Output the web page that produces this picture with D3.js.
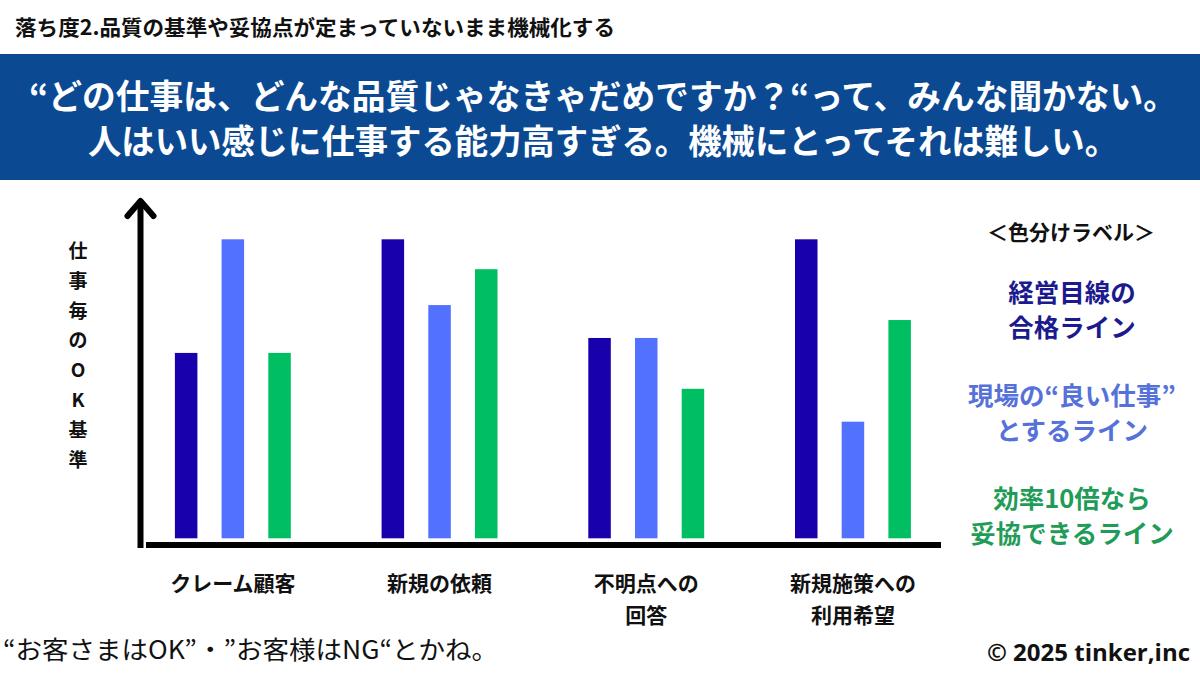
<!DOCTYPE html>
<html>
<head>
  <meta charset="utf-8">
  <style>
    html, body { margin: 0; padding: 0; background: #fff; }
    svg { display: block; font-family: "Noto Sans CJK JP", "Noto Sans", sans-serif; }
  </style>
  <script src="https://d3js.org/d3.v7.min.js"></script>
</head>
<body>
  <div id="chartContainer"></div>

  <script>
    // データ
    var categories = ["クレーム顧客", "新規の依頼", "不明点への回答", "新規施策への利用希望"];
    var categoryLines = [["クレーム顧客"], ["新規の依頼"], ["不明点への", "回答"], ["新規施策への", "利用希望"]];
    var seriesKeys = ["management", "field", "efficiency"];
    var management = [62, 100, 67, 100];  // 経営目線の合格ライン
    var field = [100, 78, 67, 39];        // 現場の“良い仕事”とするライン
    var efficiency = [62, 90, 50, 73];    // 効率10倍なら妥協できるライン
    var legendLines = [["経営目線の", "合格ライン"], ["現場の“良い仕事”", "とするライン"], ["効率10倍なら", "妥協できるライン"]];
    var yLabelChars = ["仕", "事", "毎", "の", "O", "K", "基", "準"];

    var svgWidth = 1200;
    var svgHeight = 675;

    var barColors = ["#1800ad", "#5271ff", "#00bf63"];
    var legendColors = ["#1b1a8e", "#5671da", "#1f9c57"];

    var svg = d3.select("#chartContainer")
      .append("svg")
      .attr("width", svgWidth)
      .attr("height", svgHeight);

    // 上のタイトル
    svg.append("text")
      .attr("x", 15)
      .attr("y", 35)
      .attr("font-size", 21)
      .attr("font-weight", "bold")
      .attr("fill", "#111")
      .attr("textLength", 600)
      .attr("lengthAdjust", "spacingAndGlyphs")
      .text("落ち度2.品質の基準や妥協点が定まっていないまま機械化する");

    // 青い帯
    svg.append("rect")
      .attr("x", 0)
      .attr("y", 54)
      .attr("width", svgWidth)
      .attr("height", 126)
      .attr("fill", "#0b4a93");

    var bannerLines = [
      "“どの仕事は、どんな品質じゃなきゃだめですか？“って、みんな聞かない。",
      "人はいい感じに仕事する能力高すぎる。機械にとってそれは難しい。"
    ];
    var bannerWidths = [1148, 1030];
    svg.selectAll(".banner-line")
      .data(bannerLines)
      .enter()
      .append("text")
      .attr("class", "banner-line")
      .attr("x", 603)
      .attr("y", function (d, i) { return 109 + i * 45; })
      .attr("text-anchor", "middle")
      .attr("font-size", 34)
      .attr("font-weight", "bold")
      .attr("fill", "#fff")
      .attr("textLength", function (d, i) { return bannerWidths[i]; })
      .attr("lengthAdjust", "spacingAndGlyphs")
      .text(function (d) { return d; });

    // スケール
    var x0 = d3.scaleBand()
      .domain(categories)
      .range([129.5, 956.3])
      .padding(0);

    var x1 = d3.scaleBand()
      .domain(seriesKeys)
      .range([0, x0.bandwidth()])
      .paddingInner(0.518)
      .paddingOuter(0.972);

    var yScale = d3.scaleLinear()
      .domain([0, 100])
      .range([538.3, 239.3]);

    var table = categories.map(function (c, i) {
      return { cat: c, values: [management[i], field[i], efficiency[i]] };
    });

    // 棒
    var groups = svg.selectAll(".group")
      .data(table)
      .enter()
      .append("g")
      .attr("class", "group")
      .attr("transform", function (d) { return "translate(" + x0(d.cat) + ",0)"; });

    groups.selectAll("rect")
      .data(function (d) {
        return d.values.map(function (v, j) { return { key: seriesKeys[j], value: v, idx: j }; });
      })
      .enter()
      .append("rect")
      .attr("x", function (d) { return x1(d.key); })
      .attr("y", function (d) { return yScale(d.value); })
      .attr("width", x1.bandwidth())
      .attr("height", function (d) { return yScale(0) - yScale(d.value); })
      .attr("fill", function (d) { return barColors[d.idx]; });

    // 軸
    var axisX = 140.5;
    svg.append("line")
      .attr("x1", axisX).attr("y1", 548)
      .attr("x2", axisX).attr("y2", 200)
      .attr("stroke", "#000").attr("stroke-width", 6);
    svg.append("polyline")
      .attr("points", (axisX - 13) + ",216 " + axisX + ",201 " + (axisX + 13) + ",216")
      .attr("fill", "none")
      .attr("stroke", "#000")
      .attr("stroke-width", 6)
      .attr("stroke-linecap", "round")
      .attr("stroke-linejoin", "round");
    svg.append("line")
      .attr("x1", 146).attr("y1", 545)
      .attr("x2", 941).attr("y2", 545)
      .attr("stroke", "#000").attr("stroke-width", 6);

    // カテゴリラベル
    svg.selectAll(".cat-label")
      .data(table)
      .enter()
      .append("text")
      .attr("class", "cat-label")
      .attr("text-anchor", "middle")
      .attr("font-size", 21)
      .attr("font-weight", "bold")
      .attr("fill", "#111")
      .each(function (d, i) {
        var cx = x0(d.cat) + x0.bandwidth() / 2;
        d3.select(this).selectAll("tspan")
          .data(categoryLines[i])
          .enter()
          .append("tspan")
          .attr("x", cx)
          .attr("y", function (t, k) { return 591 + k * 32; })
          .text(function (t) { return t; });
      });

    // Y軸ラベル（縦書き）
    svg.selectAll(".y-char")
      .data(yLabelChars)
      .enter()
      .append("text")
      .attr("class", "y-char")
      .attr("x", 78)
      .attr("y", function (d, i) { return 258 + i * 29.8; })
      .attr("text-anchor", "middle")
      .attr("font-size", 19)
      .attr("font-weight", "bold")
      .attr("fill", "#111")
      .text(function (d) { return d; });

    // 凡例
    svg.append("text")
      .attr("x", 1071)
      .attr("y", 240)
      .attr("text-anchor", "middle")
      .attr("font-size", 21)
      .attr("font-weight", "bold")
      .attr("fill", "#111")
      .text("＜色分けラベル＞");

    svg.selectAll(".legend")
      .data(legendLines)
      .enter()
      .append("text")
      .attr("class", "legend")
      .attr("text-anchor", "middle")
      .attr("font-size", 25.5)
      .attr("font-weight", "bold")
      .attr("fill", function (d, i) { return legendColors[i]; })
      .each(function (d, i) {
        d3.select(this).selectAll("tspan")
          .data(d)
          .enter()
          .append("tspan")
          .attr("x", 1072)
          .attr("y", function (t, k) { return 302 + i * 103 + k * 35; })
          .text(function (t) { return t; });
      });

    // 下のテキスト
    svg.append("text")
      .attr("x", 3)
      .attr("y", 659)
      .attr("font-size", 25)
      .attr("fill", "#111")
      .attr("textLength", 495)
      .attr("lengthAdjust", "spacingAndGlyphs")
      .text("“お客さまはOK”・”お客様はNG“とかね。");

    svg.append("text")
      .attr("x", 1190)
      .attr("y", 661)
      .attr("text-anchor", "end")
      .attr("font-family", "'Open Sans', 'Noto Sans', sans-serif")
      .attr("font-size", 24)
      .attr("font-weight", "bold")
      .attr("fill", "#111")
      .text("© 2025 tinker,inc");
  </script>
</body>
</html>
